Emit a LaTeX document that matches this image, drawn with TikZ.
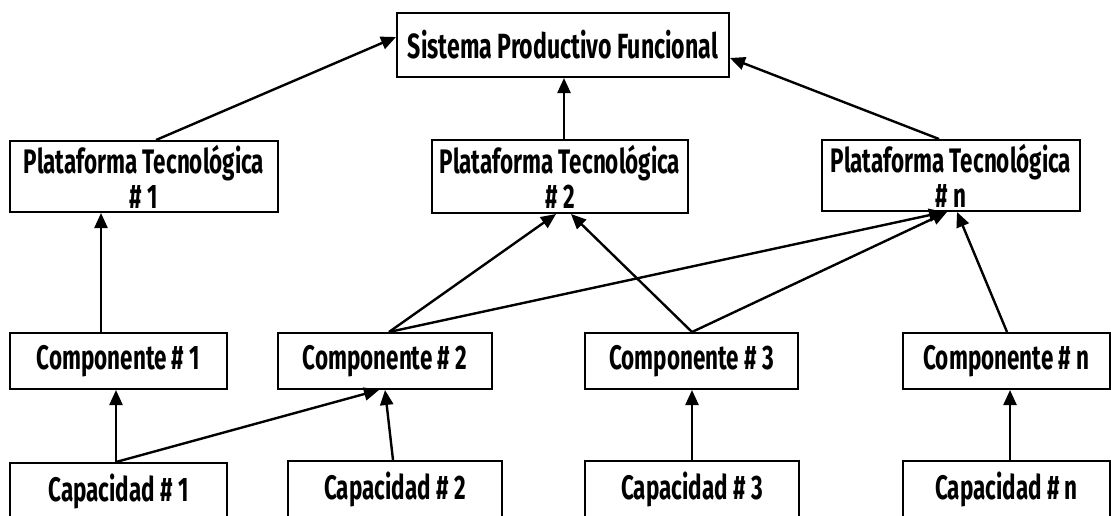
\documentclass[tikz,border=0pt]{standalone}
\usepackage{fontspec}
\setmainfont{Fira Sans}[FakeStretch=0.66]
\usetikzlibrary{arrows.meta,calc}
\begin{document}
\begin{tikzpicture}[x=0.5pt,y=-0.5pt,
  box/.style={draw, line width=1pt, rectangle, inner sep=0pt, align=center,
    font=\fontsize{17}{17.5}\selectfont\bfseries},
  link/.style={line width=1.2pt, -{Triangle[length=7.5pt,width=6.5pt]}}]
\clip (0,0) rectangle (1111,515);

% top level
\node[box, minimum width=166pt, minimum height=32pt, font=\fontsize{17.5}{17.5}\selectfont\bfseries] (sys) at (563,45) {Sistema Productivo Funcional};

% platforms
\node[box, minimum width=134pt, minimum height=35.5pt] (pt1) at (144,176.5) {Plataforma Tecnológica\\\# 1};
\node[box, minimum width=128pt, minimum height=36.5pt] (pt2) at (560,176.5) {Plataforma Tecnológica\\\# 2};
\node[box, minimum width=129pt, minimum height=35.5pt] (ptn) at (951,175.5) {Plataforma Tecnológica\\\# n};

% components
\node[box, minimum width=108.5pt, minimum height=28pt] (c1) at (118.5,361) {Componente \# 1};
\node[box, minimum width=107pt, minimum height=28pt] (c2) at (385,361) {Componente \# 2};
\node[box, minimum width=106.5pt, minimum height=28pt] (c3) at (691.5,361) {Componente \# 3};
\node[box, minimum width=103.5pt, minimum height=28pt] (cn) at (1006.5,361) {Componente \# n};

% capacities
\node[box, minimum width=108.5pt, minimum height=28pt] (cap1) at (118.5,491) {Capacidad \# 1};
\node[box, minimum width=107pt, minimum height=28pt] (cap2) at (395,489) {Capacidad \# 2};
\node[box, minimum width=107pt, minimum height=28pt] (cap3) at (692,489) {Capacidad \# 3};
\node[box, minimum width=103.5pt, minimum height=28pt] (capn) at (1006.5,489) {Capacidad \# n};

% platforms -> system
\draw[link] ($(pt1.north west)+(147,0)$) -- ($(sys.north west)+(0,25)$);
\draw[link] ($(pt2.north west)+(133,0)$) -- ($(sys.south west)+(168,0)$);
\draw[link] ($(ptn.north west)+(118,0)$) -- ($(sys.north east)+(0,46)$);

% components -> platforms
\draw[link] ($(c1.north west)+(92,0)$) -- ($(pt1.south west)+(92,0)$);
\draw[link] ($(c2.north west)+(112,0)$) -- ($(pt2.south west)+(125,0)$);
\draw[link] ($(c2.north west)+(112,0)$) -- ($(ptn.south west)+(123,0)$);
\draw[link] ($(c3.north west)+(108,0)$) -- ($(pt2.south west)+(140,0)$);
\draw[link] ($(c3.north west)+(108,0)$) -- ($(ptn.south west)+(126,0)$);
\draw[link] ($(cn.north west)+(105,0)$) -- ($(ptn.south west)+(136,0)$);

% capacities -> components
\draw[link] ($(cap1.north west)+(107,0)$) -- ($(c1.south west)+(107,0)$);
\draw[link] ($(cap1.north west)+(107,0)$) -- ($(c2.south west)+(102,0)$);
\draw[link] ($(cap2.north west)+(106,0)$) -- ($(c2.south west)+(108,0)$);
\draw[link] ($(cap3.north west)+(108,0)$) -- ($(c3.south west)+(108,0)$);
\draw[link] ($(capn.north west)+(108,0)$) -- ($(cn.south west)+(108,0)$);
\end{tikzpicture}
\end{document}
